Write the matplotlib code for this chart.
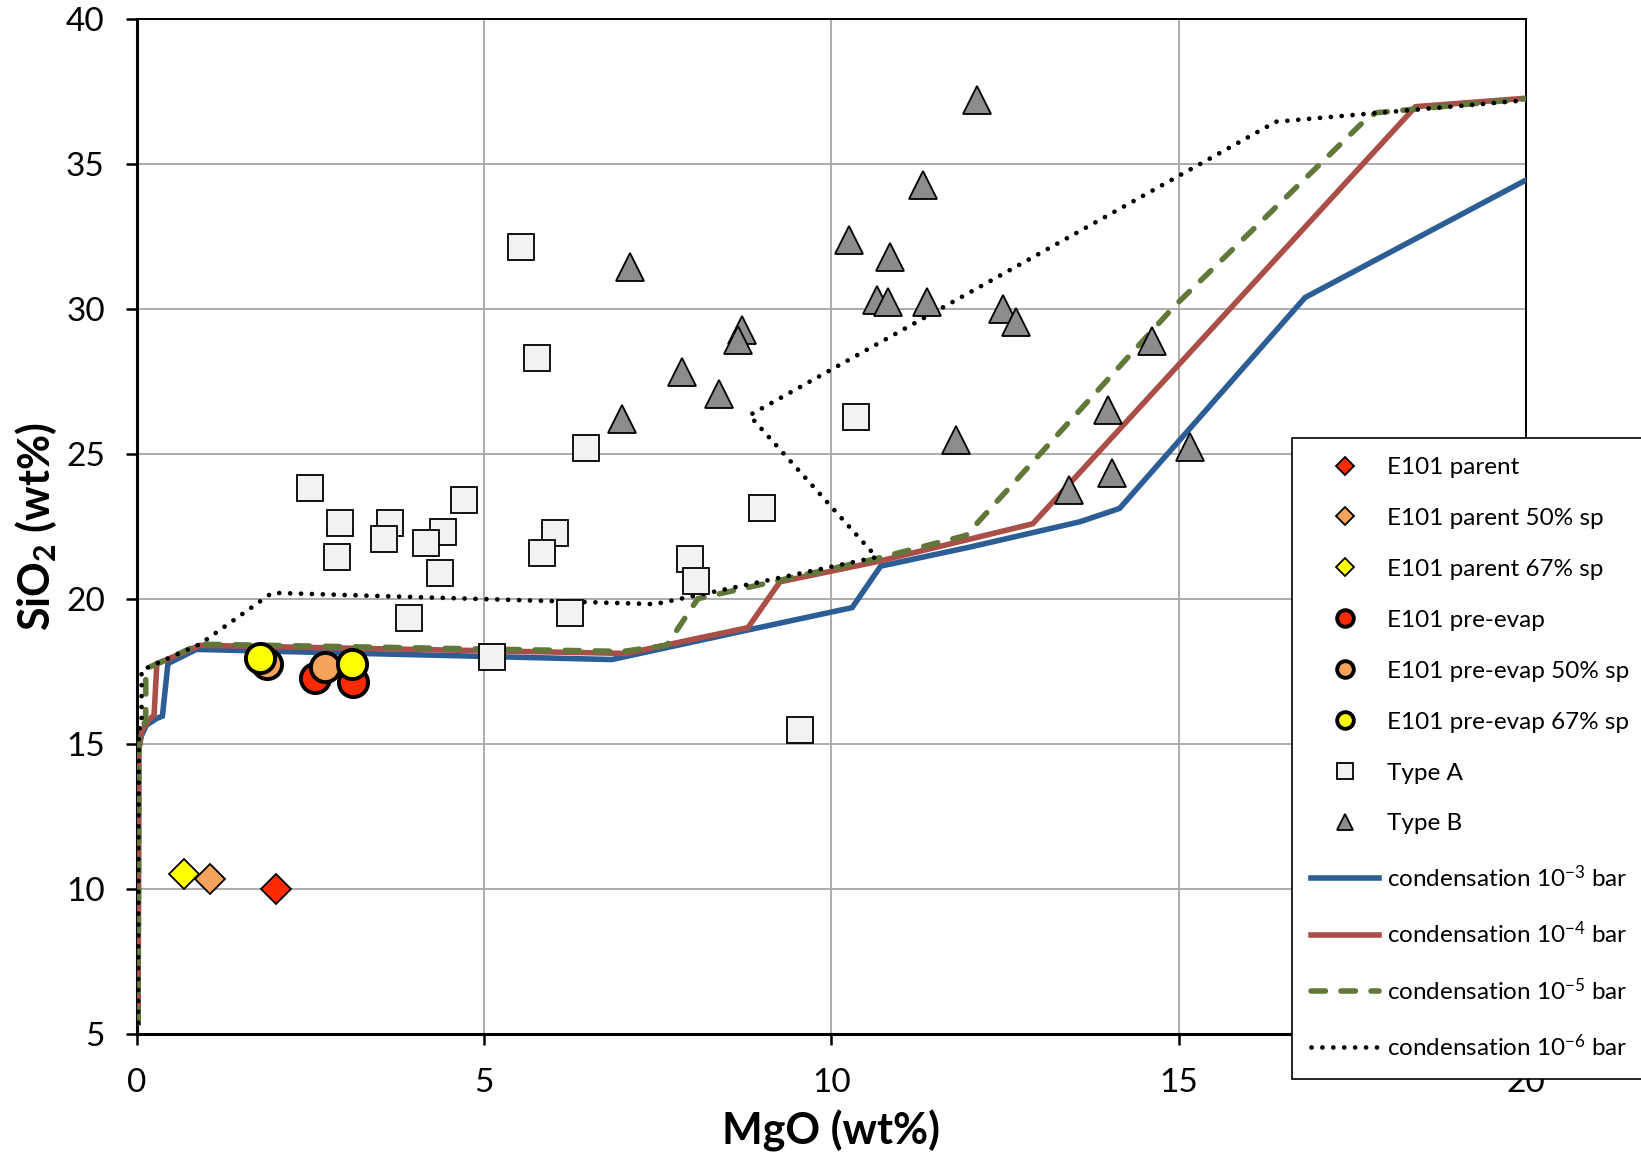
import matplotlib
matplotlib.use("Agg")
import matplotlib.pyplot as plt

plt.rcParams['font.family'] = ['Lato', 'DejaVu Sans']
plt.rcParams['mathtext.fontset'] = 'custom'
plt.rcParams['mathtext.rm'] = 'Lato'
plt.rcParams['mathtext.bf'] = 'Lato:bold'
plt.rcParams['mathtext.default'] = 'regular'

# ---------------- data ----------------
parent_x, parent_y = [2.0], [10.0]
parent50_x, parent50_y = [1.05], [10.37]
parent67_x, parent67_y = [0.68], [10.52]

preevap_x, preevap_y = [2.57, 3.12], [17.27, 17.15]
preevap50_x, preevap50_y = [1.87, 2.71], [17.78, 17.67]
preevap67_x, preevap67_y = [1.77, 3.10], [17.99, 17.76]

typeA_x = [5.53, 5.77, 6.47, 2.50, 2.93, 3.65, 3.56, 4.41, 4.71, 4.17, 2.88,
           4.36, 3.92, 6.02, 5.83, 6.24, 5.12, 7.96, 8.05, 9.00, 10.36, 9.55]
typeA_y = [32.13, 28.33, 25.20, 23.84, 22.63, 22.63, 22.09, 22.32, 23.41, 21.94, 21.45,
           20.92, 19.36, 22.29, 21.61, 19.54, 18.01, 21.37, 20.63, 23.15, 26.29, 15.50]

typeB_x = [12.09, 11.32, 10.25, 10.84, 10.66, 10.82, 11.38, 12.47, 12.66, 7.10, 8.71,
           8.66, 7.85, 8.39, 6.99, 11.79, 14.62, 13.99, 14.04, 13.42, 15.17]
typeB_y = [37.21, 34.28, 32.38, 31.80, 30.33, 30.25, 30.25, 29.99, 29.56, 31.46, 29.28,
           28.93, 27.84, 27.07, 26.20, 25.48, 28.91, 26.52, 24.36, 23.76, 25.25]

cond3_x = [0.02, 0.03, 0.06, 0.14, 0.29, 0.37, 0.45, 0.86, 6.84, 8.82, 10.30, 10.71,
           12.00, 13.58, 14.15, 16.82, 20.0]
cond3_y = [5.4, 14.8, 15.25, 15.66, 15.89, 15.97, 17.78, 18.27, 17.92, 18.95, 19.71, 21.14,
           21.80, 22.67, 23.13, 30.40, 34.45]

cond4_x = [0.02, 0.03, 0.08, 0.17, 0.25, 0.29, 0.91, 7.05, 8.80, 9.26, 10.65, 12.90,
           18.41, 20.0]
cond4_y = [5.4, 14.8, 15.5, 15.83, 16.0, 17.77, 18.41, 18.13, 19.02, 20.6, 21.29, 22.60,
           36.98, 37.27]

cond5_x = [0.02, 0.03, 0.08, 0.13, 0.13, 0.91, 7.0, 7.63, 8.08, 10.65, 11.94, 14.93,
           17.66, 17.84, 20.0]
cond5_y = [5.4, 15.0, 15.6, 15.8, 17.6, 18.45, 18.2, 18.41, 20.02, 21.4, 22.2, 30.08,
           36.46, 36.77, 37.25]

cond6_x = [0.02, 0.03, 0.07, 0.07, 0.91, 1.95, 7.46, 8.08, 10.65, 8.82, 16.40, 17.79, 20.0]
cond6_y = [5.4, 15.5, 15.7, 17.55, 18.45, 20.22, 19.83, 20.14, 21.45, 26.34, 36.46, 36.75,
           37.2]

xticks = [0, 5, 10, 15, 20]
yticks = [5, 10, 15, 20, 25, 30, 35, 40]

# ---------------- figure ----------------
fig = plt.figure(figsize=(16.41, 11.54), dpi=100)
ax = fig.add_axes([0.0833, 0.1037, 0.8466, 0.8798])

ax.set_xlim(0, 20)
ax.set_ylim(5, 40)
ax.set_xticks(xticks)
ax.set_yticks(yticks)
ax.grid(True, color='#A6A6A6', linewidth=1.3, zorder=0)
ax.set_axisbelow(True)

ax.spines['left'].set_linewidth(2.2)
ax.spines['bottom'].set_linewidth(2.2)
ax.spines['top'].set_linewidth(1.4)
ax.spines['right'].set_linewidth(1.4)
ax.tick_params(axis='both', direction='out', length=8, width=1.8, labelsize=24)
ax.tick_params(axis='x', pad=16)
ax.tick_params(axis='y', pad=15)
ax.tick_params(top=False, right=False)

lw = 4.0
l3, = ax.plot(cond3_x, cond3_y, color='#2C5E95', lw=lw, solid_joinstyle='miter',
              label='condensation 10$^{-3}$ bar', zorder=3)
l4, = ax.plot(cond4_x, cond4_y, color='#AA4E48', lw=lw, solid_joinstyle='miter',
              label='condensation 10$^{-4}$ bar', zorder=3)
l5, = ax.plot(cond5_x, cond5_y, color='#62783A', lw=lw, dashes=(2.6, 2.8),
              dash_capstyle='round', label='condensation 10$^{-5}$ bar', zorder=3)
l6, = ax.plot(cond6_x, cond6_y, color='black', lw=3.4, dashes=(0.01, 2.3),
              dash_capstyle='round', label='condensation 10$^{-6}$ bar', zorder=3)

mA, = ax.plot(typeA_x, typeA_y, ls='none', marker='s', ms=19.3, mfc='#F2F2F2',
              mec='black', mew=1.3, label='Type A', zorder=4)
mB, = ax.plot(typeB_x, typeB_y, ls='none', marker='^', ms=19.5, mfc='#8C8C8C',
              mec='black', mew=1.3, label='Type B', zorder=4)

d1, = ax.plot(parent_x, parent_y, ls='none', marker='D', ms=15.4, mfc='#FF2A00',
              mec='black', mew=1.3, label='E101 parent', zorder=5)
d2, = ax.plot(parent50_x, parent50_y, ls='none', marker='D', ms=15.4, mfc='#F7A35C',
              mec='black', mew=1.3, label='E101 parent 50% sp', zorder=5)
d3, = ax.plot(parent67_x, parent67_y, ls='none', marker='D', ms=15.4, mfc='#FFFF00',
              mec='black', mew=1.3, label='E101 parent 67% sp', zorder=5)

c1, = ax.plot(preevap_x, preevap_y, ls='none', marker='o', ms=21, mfc='#FF2A00',
              mec='black', mew=2.8, label='E101 pre-evap', zorder=6)
c2, = ax.plot(preevap50_x, preevap50_y, ls='none', marker='o', ms=21, mfc='#F7A35C',
              mec='black', mew=2.8, label='E101 pre-evap 50% sp', zorder=7)
c3, = ax.plot(preevap67_x, preevap67_y, ls='none', marker='o', ms=21, mfc='#FFFF00',
              mec='black', mew=2.8, label='E101 pre-evap 67% sp', zorder=8)

ax.set_xlabel('MgO (wt%)', fontsize=31, fontweight='bold')
ax.set_ylabel(r'SiO$_\mathbf{2}$ (wt%)', fontsize=31, fontweight='bold')
ax.xaxis.set_label_coords(0.5, -0.0956)
ax.xaxis.label.set_verticalalignment('center')
ax.yaxis.set_label_coords(-0.0725, 0.5)
ax.yaxis.label.set_verticalalignment('center')

handles = [d1, d2, d3, c1, c2, c3, mA, mB, l3, l4, l5, l6]
leg = fig.legend(handles=handles, loc='upper left',
                 bbox_to_anchor=(0.7872, 0.6208), bbox_transform=fig.transFigure,
                 borderaxespad=0, fontsize=17.5, frameon=True, fancybox=False,
                 edgecolor='black', framealpha=1, handlelength=2.8,
                 handletextpad=0.3, labelspacing=1.23, borderpad=0.8,
                 markerscale=0.57)
leg.get_frame().set_linewidth(1.2)

fig.savefig('out.png', dpi=100)
